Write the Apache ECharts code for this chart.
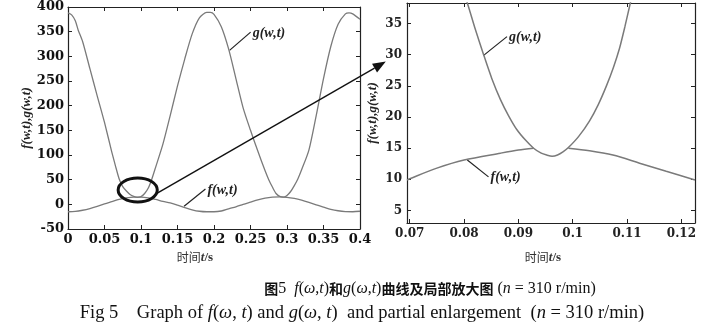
<!DOCTYPE html>
<html><head><meta charset="utf-8">
<script src="https://cdn.jsdelivr.net/npm/echarts@6/dist/echarts.min.js"></script>
<style>html,body{margin:0;padding:0;background:#fff;}#c{width:723px;height:334px;}</style>
</head><body><div id="c"></div>
<script>
// ---- Left chart (full range) ----
const gT = [0,0.005,0.01,0.014,0.02,0.03,0.04,0.05,0.06,0.065,0.07,0.075,0.08,0.085,0.09,0.095,0.1,0.105,0.11,0.115,0.12,0.13,0.14,0.15,0.16,0.17,0.18,0.19,0.195,0.2,0.21,0.22,0.23,0.24,0.25,0.26,0.27,0.275,0.28,0.285,0.29,0.295,0.3,0.305,0.31,0.315,0.32,0.33,0.34,0.35,0.36,0.37,0.38,0.385,0.39,0.4];
const gV = [388,384,372,353,330,275,220,166,106,78,52,36,27,20,16,14,15.5,22,33,52,75,122,180,240,295,345,378,389,389,385,360,315,255,195,150,108,68,50,35,22,16,14.5,18,26,38,52,70,110,180,255,320,365,386,388,386,375];
const fT = [0,0.01,0.02,0.03,0.04,0.05,0.06,0.07,0.08,0.09,0.1,0.11,0.12,0.13,0.14,0.15,0.16,0.17,0.18,0.19,0.2,0.21,0.22,0.23,0.24,0.25,0.26,0.27,0.28,0.29,0.3,0.31,0.32,0.33,0.34,0.35,0.36,0.37,0.38,0.39,0.4];
const fV = [-15,-14.4,-12,-8.5,-4,1,5.5,10,13,14.7,14.8,13.3,10,6,3,-1.5,-6.5,-11,-14,-15,-15,-13.5,-9,-5,0,4.5,9,12.5,14.5,15,14.3,12,8.5,4,-1,-5.5,-10,-13,-14.7,-15,-14];

// ---- Right chart (partial enlargement) ----
const gZT = [0.0795,0.0806,0.0821,0.0836,0.0851,0.0867,0.0882,0.0897,0.0913,0.0928,0.0942,0.0952,0.0962,0.0972,0.0982,0.0992,0.1011,0.1031,0.1047,0.1062,0.1075,0.1086,0.1096,0.1106,0.1118];
const gZV = [41,38.3,34,30,26.2,22.8,20.2,18,16.3,15,14.2,13.9,13.7,13.9,14.4,15.1,16.9,19.4,22,25,28,31,34.5,38.3,42.5];
const fZT = [0.0695,0.07,0.075,0.08,0.0867,0.09,0.0928,null,0.0992,0.1031,0.1074,0.1123,0.1172,0.1225];
const fZV = [9.9,10.1,11.8,13.1,14.2,14.7,15.0,null,15.0,14.6,13.9,12.6,11.3,9.9];
const rightXTicks = [0.07,0.08,0.09,0.1,0.11,0.12];
const rightYTicks = [5,10,15,20,25,30,35];

const pairs = (t, v) => t.map((x, i) => (x === null ? [null, null] : [x, v[i]]));

const chart = echarts.init(document.getElementById('c'), null, {renderer: 'canvas'});
const lineCol = '#7a7a7a';
const axCol = '#222';
const serif = 'DejaVu Serif';
const lblL = {color: '#111', fontFamily: serif, fontWeight: 'bold', fontSize: 13, margin: 4};
const lblR = {color: '#222', fontFamily: serif, fontWeight: 'bold', fontSize: 12, margin: 5};
const axLine = {show: true, onZero: false, lineStyle: {color: axCol, width: 1.2}};
const tickIn = {show: true, inside: true, length: 4, lineStyle: {color: axCol}};
const xName = {
  rich: {
    a: {fontFamily: 'Noto Sans CJK SC', fontSize: 12, color: '#333'},
    b: {fontFamily: 'Liberation Serif', fontStyle: 'italic', fontWeight: 'bold', fontSize: 13, color: '#333'},
    c: {fontFamily: 'Liberation Serif', fontWeight: 'bold', fontSize: 13, color: '#333'}
  }
};
const yNameStyle = {fontFamily: 'Liberation Serif', fontStyle: 'italic', fontWeight: 'bold', fontSize: 13, color: '#222'};

chart.setOption({
  animation: false,
  backgroundColor: '#fff',
  grid: [
    {left: 68, right: 363, top: 7, bottom: 105, show: false},
    {left: 407, right: 28, top: 3, bottom: 111, show: false}
  ],
  xAxis: [
    {type: 'value', gridIndex: 0, min: 0, max: 0.4, interval: 0.05, axisLine: axLine, axisTick: tickIn, splitLine: {show: false}, axisLabel: lblL,
     name: '{a|时间}{b|t}{c|/s}', nameLocation: 'middle', nameGap: 22, nameTextStyle: Object.assign({padding: [0, 38, 0, 0]}, xName)},
    {type: 'value', gridIndex: 0, position: 'top', min: 0, max: 0.4, interval: 0.05, axisLine: axLine, axisTick: tickIn, axisLabel: {show: false}, splitLine: {show: false}},
    {type: 'value', gridIndex: 1, min: 0.0695, max: 0.1225, axisLine: axLine, splitLine: {show: false},
     axisTick: Object.assign({customValues: rightXTicks}, tickIn), axisLabel: Object.assign({customValues: rightXTicks}, lblR),
     name: '{a|时间}{b|t}{c|/s}', nameLocation: 'middle', nameGap: 28, nameTextStyle: Object.assign({padding: [0, 16, 0, 0]}, xName)},
    {type: 'value', gridIndex: 1, position: 'top', min: 0.0695, max: 0.1225, axisLine: axLine, splitLine: {show: false},
     axisTick: Object.assign({customValues: rightXTicks}, tickIn), axisLabel: {show: false}}
  ],
  yAxis: [
    {type: 'value', gridIndex: 0, min: -50, max: 400, interval: 50, axisLine: axLine, axisTick: tickIn, splitLine: {show: false}, axisLabel: lblL,
     name: 'f(w,t),g(w,t)', nameLocation: 'middle', nameGap: 34, nameRotate: 90, nameTextStyle: yNameStyle},
    {type: 'value', gridIndex: 0, position: 'right', min: -50, max: 400, interval: 50, axisLine: axLine, axisTick: tickIn, axisLabel: {show: false}, splitLine: {show: false}},
    {type: 'value', gridIndex: 1, min: 3, max: 38.3, axisLine: axLine, splitLine: {show: false},
     axisTick: Object.assign({customValues: rightYTicks}, tickIn), axisLabel: Object.assign({customValues: rightYTicks}, lblR),
     name: 'f(w,t),g(w,t)', nameLocation: 'middle', nameGap: 28, nameRotate: 90, nameTextStyle: yNameStyle},
    {type: 'value', gridIndex: 1, position: 'right', min: 3, max: 38.3, axisLine: axLine, splitLine: {show: false},
     axisTick: Object.assign({customValues: rightYTicks}, tickIn), axisLabel: {show: false}}
  ],
  series: [
    {name: 'g', type: 'line', xAxisIndex: 0, yAxisIndex: 0, data: pairs(gT, gV), smooth: 0.25, showSymbol: false, lineStyle: {color: lineCol, width: 1.3}},
    {name: 'f', type: 'line', xAxisIndex: 0, yAxisIndex: 0, data: pairs(fT, fV), smooth: 0.3, showSymbol: false, lineStyle: {color: lineCol, width: 1.3}},
    {name: 'gZ', type: 'line', xAxisIndex: 2, yAxisIndex: 2, data: pairs(gZT, gZV), smooth: 0.25, showSymbol: false, lineStyle: {color: lineCol, width: 1.5}},
    {name: 'fZ', type: 'line', xAxisIndex: 2, yAxisIndex: 2, data: pairs(fZT, fZV), smooth: 0.3, showSymbol: false, connectNulls: false, lineStyle: {color: lineCol, width: 1.5}}
  ]
});

// annotation anchors in data units
const ellipseC = [0.0955, 29];          // grid 0
const ellipseR = [0.0268, 24.3];        // half-width (t), half-height (value)
const arrowFrom = [0.1223, 22.9];       // grid 0
const arrowTo = [0.0656, 28.9];         // grid 1
const gLblL = [[0.2213, 312], [0.2502, 349]];
const fLblL = [[0.159, -4], [0.1883, 31]];
const gLblR = [[0.0836, 29.9], [0.0879, 32.9]];
const fLblR = [[0.0806, 13.1], [0.0845, 10.4]];

const p0 = v => chart.convertToPixel({gridIndex: 0}, v);
const p1 = v => chart.convertToPixel({gridIndex: 1}, v);
const ec = p0(ellipseC);
const ex = p0([ellipseC[0] + ellipseR[0], ellipseC[1] + ellipseR[1]]);
const a0 = p0(arrowFrom), a1 = p1(arrowTo);
const ang = Math.atan2(a1[1] - a0[1], a1[0] - a0[0]);
const hl = 13, hw = 5;
const base = [a1[0] - hl * Math.cos(ang), a1[1] - hl * Math.sin(ang)];
const head = [a1, [base[0] + hw * Math.sin(ang), base[1] - hw * Math.cos(ang)], [base[0] - hw * Math.sin(ang), base[1] + hw * Math.cos(ang)]];

const lblFont = {fontFamily: 'Liberation Serif', fontStyle: 'italic', fontWeight: 'bold', fontSize: 14, fill: '#222'};
function leader(pts, conv, text) {
  const a = conv(pts[0]), b = conv(pts[1]);
  return [
    {type: 'line', shape: {x1: a[0], y1: a[1], x2: b[0], y2: b[1]}, style: {stroke: '#222', lineWidth: 1.2}},
    {type: 'text', style: Object.assign({x: b[0] + 2, y: b[1] + 1, text: text, align: 'left', verticalAlign: 'middle'}, lblFont)}
  ];
}

const cnS = {fontFamily: 'Noto Sans CJK SC', fontWeight: 'bold', fontSize: 14, fill: '#111'};
const itS = {fontFamily: 'Liberation Serif', fontStyle: 'italic', fontSize: 16, fill: '#111'};
const rmS = {fontFamily: 'Liberation Serif', fontSize: 16, fill: '#111'};
const it2 = {fontFamily: 'Liberation Serif', fontStyle: 'italic', fontSize: 18.5, fill: '#111'};
const rm2 = {fontFamily: 'Liberation Serif', fontSize: 18.5, fill: '#111'};

chart.setOption({
  graphic: [
    {type: 'ellipse', shape: {cx: ec[0], cy: ec[1], rx: ex[0] - ec[0], ry: ec[1] - ex[1]}, style: {fill: 'none', stroke: '#111', lineWidth: 3}, z: 10},
    {type: 'line', shape: {x1: a0[0], y1: a0[1], x2: base[0], y2: base[1]}, style: {stroke: '#111', lineWidth: 1.4}, z: 10},
    {type: 'polygon', shape: {points: head}, style: {fill: '#111'}, z: 10},
    ...leader(gLblL, p0, 'g(w,t)'),
    ...leader(fLblL, p0, 'f(w,t)'),
    ...leader(gLblR, p1, 'g(w,t)'),
    ...leader(fLblR, p1, 'f(w,t)'),
    {type: 'text', style: {x: 430, y: 289, align: 'center', verticalAlign: 'middle',
      text: '{cn|图}{rm|5  }{it|f}{rm|(}{it|ω}{rm|,}{it|t}{rm|)}{cn|和}{it|g}{rm|(}{it|ω}{rm|,}{it|t}{rm|)}{cn|曲线及局部放大图}{rm| (}{it|n}{rm| = 310 r/min)}',
      rich: {cn: cnS, it: itS, rm: rmS}}},
    {type: 'text', style: {x: 362, y: 313, align: 'center', verticalAlign: 'middle',
      text: '{rm|Fig 5    Graph of }{it|f}{rm|(}{it|ω}{rm|, }{it|t}{rm|) and }{it|g}{rm|(}{it|ω}{rm|, }{it|t}{rm|)  and partial enlargement  (}{it|n}{rm| = 310 r/min)}',
      rich: {it: it2, rm: rm2}}}
  ]
});
</script></body></html>
